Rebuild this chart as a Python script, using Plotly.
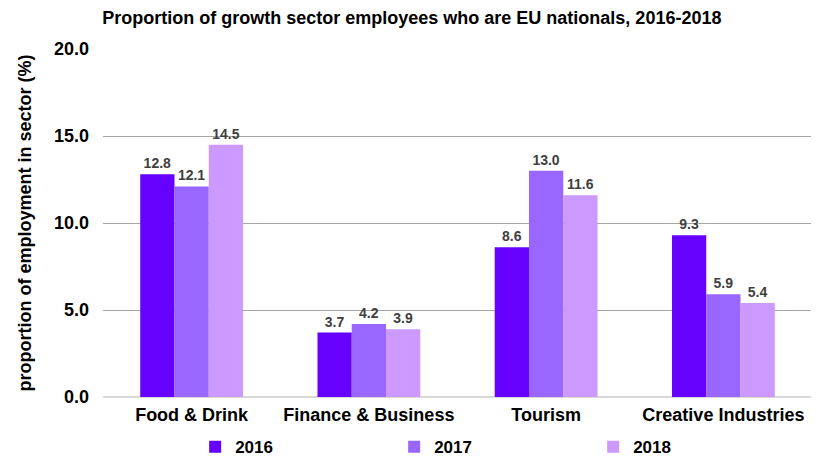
import plotly.graph_objects as go

categories = ["Food & Drink", "Finance & Business", "Tourism", "Creative Industries"]
years = ["2016", "2017", "2018"]
values_2016 = [12.8, 3.7, 8.6, 9.3]
values_2017 = [12.1, 4.2, 13.0, 5.9]
values_2018 = [14.5, 3.9, 11.6, 5.4]
colors = ["#6600FF", "#9966FF", "#CC99FF"]
tick_vals = [0, 5, 10, 15, 20]

FONT = "Liberation Sans, Arial"

fig = go.Figure()
for name, vals, col in zip(years, [values_2016, values_2017, values_2018], colors):
    fig.add_trace(go.Bar(
        x=categories, y=vals, name=f"<b>{name}</b>", marker_color=col,
        marker_line_width=0,
        text=[f"<b>{v:.1f}</b>" for v in vals], textposition="outside",
        textfont=dict(family=FONT, size=14, color="#404040"),
        cliponaxis=False,
    ))

fig.update_layout(
    width=811, height=449,
    barmode="group", bargap=0.42, bargroupgap=0,
    plot_bgcolor="white", paper_bgcolor="white",
    font=dict(family=FONT, color="black"),
    title=dict(text="<b>Proportion of growth sector employees who are EU nationals, 2016-2018</b>",
               x=0.498, xanchor="center", y=0.978, yanchor="middle",
               font=dict(size=18, color="black")),
    margin=dict(l=95, r=7, t=41, b=60, autoexpand=False),
    showlegend=True,
    legend=dict(orientation="h", x=0.13, xanchor="left", y=-0.144, yanchor="middle",
                entrywidth=154, entrywidthmode="pixels",
                font=dict(size=17, color="black", family=FONT),
                itemwidth=30, tracegroupgap=0),
    yaxis=dict(range=[0, 20], tickvals=tick_vals, ticktext=[f"<b>{v:.1f}</b>" for v in tick_vals],
               showgrid=True, gridcolor="#A6A6A6", gridwidth=1, zeroline=True,
               zerolinecolor="#D9D9D9", zerolinewidth=2,
               tickfont=dict(size=18, color="black"), ticks="", ticklen=0,
               ticklabelstandoff=13,
               title=dict(text="<b>proportion of employment in sector (%)</b>",
                          font=dict(size=18, color="black"), standoff=17)),
    xaxis=dict(tickvals=categories, ticktext=[f"<b>{c}</b>" for c in categories],
               tickfont=dict(size=18, color="black"), showline=False, ticks="",
               ticklabelstandoff=5),
)
fig.write_html("out.html")
